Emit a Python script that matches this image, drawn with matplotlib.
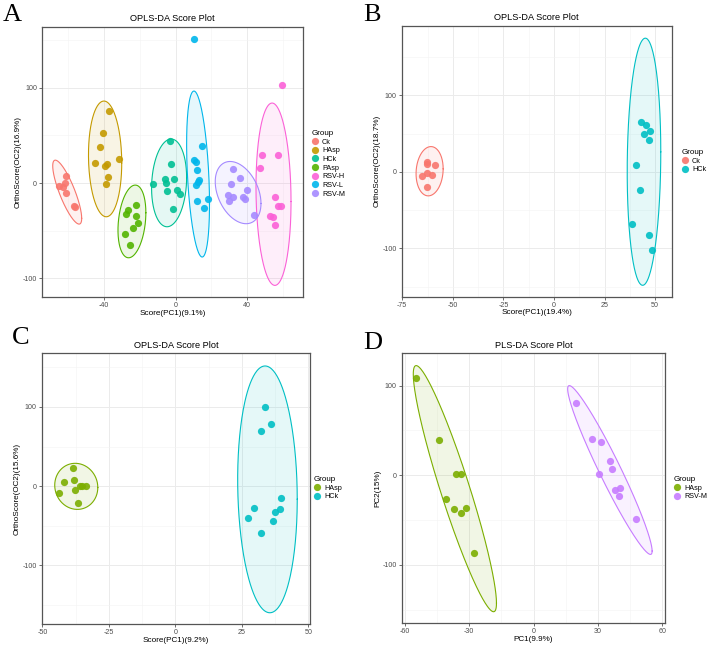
import numpy as np
import matplotlib
matplotlib.use("Agg")
import matplotlib.pyplot as plt
from matplotlib.lines import Line2D

plt.rcParams['font.family'] = ['Liberation Sans', 'DejaVu Sans']
plt.rcParams['axes.unicode_minus'] = False

# ---------------- data ----------------
# Panel A: OPLS-DA, 7 groups
A_groups = ["Ck", "HAsp", "HCk", "PAsp", "RSV-H", "RSV-L", "RSV-M"]
A_colors = ["#F8766D", "#C49A00", "#00C094", "#53B400", "#FB61D7", "#00B6EB", "#A58AFF"]
A_x = {
    "Ck":    [-61.0, -65.3, -61.6, -62.9, -61.0, -56.9, -56.4],
    "HAsp":  [-37.0, -40.6, -42.2, -45.2, -38.5, -39.3, -31.4, -37.6, -38.7],
    "HCk":   [-3.2, -2.8, -12.7, -6.1, -5.4, -1.1, -5.0, 0.6, 2.6, -1.5],
    "PAsp":  [-22.3, -26.6, -27.9, -22.0, -21.0, -23.8, -28.1, -25.7],
    "RSV-H": [59.7, 48.2, 57.5, 47.3, 55.4, 57.5, 59.0, 53.0, 54.3, 55.8],
    "RSV-L": [10.6, 14.9, 10.4, 11.2, 12.1, 13.0, 12.3, 11.5, 11.9, 18.4, 16.2],
    "RSV-M": [32.4, 36.1, 30.9, 39.8, 29.2, 32.4, 30.0, 37.6, 39.1, 44.1],
}
A_y = {
    "Ck":    [7.7, -2.8, -0.4, -4.2, -10.2, -24.5, -25.2],
    "HAsp":  [76.0, 52.5, 37.5, 20.7, 20.3, 18.2, 24.9, 6.7, -1.4],
    "HCk":   [43.8, 20.3, -0.7, 4.2, 0.4, 4.2, -8.8, -7.4, -11.2, -27.3],
    "PAsp":  [-23.5, -28.0, -32.2, -35.0, -42.4, -47.3, -53.6, -64.8],
    "RSV-H": [103.3, 29.1, 29.8, 15.8, -14.4, -24.2, -24.2, -34.7, -35.4, -43.8],
    "RSV-L": [151.7, 38.9, 24.5, 22.1, 13.7, 3.2, 1.4, -2.5, -18.9, -16.5, -26.3],
    "RSV-M": [14.4, 5.6, -1.4, -7.4, -12.3, -15.1, -18.6, -14.7, -16.5, -33.3],
}
# ellipse: centre x, centre y, half width, half height, correlation
A_ell = {
    "Ck":    (-60.6, -9.5, 8.1, 33.6, -0.82),
    "HAsp":  (-39.4, 25.4, 9.3, 60.8, -0.07),
    "HCk":   (-3.6, 0.2, 9.8, 46.1, 0.12),
    "PAsp":  (-24.4, -40.3, 7.8, 38.2, 0.24),
    "RSV-H": (54.8, -11.7, 9.8, 95.8, -0.08),
    "RSV-L": (12.6, 9.5, 6.4, 87.2, -0.36),
    "RSV-M": (35.0, -10.0, 12.8, 32.7, -0.35),
}

# Panel B: Ck vs HCk
B_groups = ["Ck", "HCk"]
B_colors = ["#F8766D", "#00BFC4"]
B_x = {"Ck": [-62.8, -62.9, -58.7, -65.4, -62.6, -60.3, -62.8],
       "HCk": [43.0, 45.3, 47.4, 44.6, 47.1, 40.5, 42.3, 38.6, 47.2, 48.7]}
B_y = {"Ck": [13.5, 10.0, 8.7, -5.2, -1.7, -3.5, -19.6],
       "HCk": [64.9, 61.0, 53.6, 49.7, 41.8, 9.2, -23.1, -68.4, -82.4, -102.4]}
B_ell = {"Ck": (-61.5, 0.9, 6.7, 32.2, 0.1),
         "HCk": (44.5, 13.3, 8.3, 161.4, 0.08)}

# Panel C: HAsp vs HCk
C_groups = ["HAsp", "HCk"]
C_colors = ["#7CAE00", "#00BFC4"]
C_x = {"HAsp": [-38.7, -38.1, -42.1, -43.9, -35.8, -35.1, -33.8, -37.7, -36.5],
       "HCk": [33.5, 35.8, 32.1, 39.7, 29.4, 39.3, 37.3, 27.1, 36.6, 32.1]}
C_y = {"HAsp": [23.4, 7.8, 4.8, -8.2, 0.6, 0.2, 0.6, -4.8, -21.7],
       "HCk": [99.6, 78.5, 69.3, -15.4, -28.0, -28.4, -32.2, -39.8, -43.6, -59.2]}
C_ell = {"HAsp": (-37.3, -0.2, 8.1, 29.1, -0.05),
         "HCk": (34.6, -4.0, 11.2, 155.8, -0.08)}

# Panel D: PLS-DA, HAsp vs RSV-M
D_groups = ["HAsp", "RSV-M"]
D_colors = ["#7CAE00", "#C77CFF"]
D_x = {"HAsp": [-54.9, -44.3, -36.4, -34.0, -40.7, -37.3, -34.0, -31.7, -27.8],
       "RSV-M": [19.7, 27.2, 31.6, 35.8, 36.7, 30.6, 38.1, 40.4, 39.8, 47.7]}
D_y = {"HAsp": [108.2, 39.8, 1.1, 1.1, -26.0, -37.9, -42.4, -36.8, -86.2],
       "RSV-M": [81.0, 40.1, 36.8, 16.4, 6.7, 1.5, -16.0, -13.8, -23.4, -49.1]}
D_ell = {"HAsp": (-36.7, -14.9, 19.4, 137.2, -0.93),
         "RSV-M": (35.6, 5.9, 19.7, 94.1, -0.96)}

# ---------------- figure ----------------
W, H = 709, 645
fig = plt.figure(figsize=(W / 100, H / 100), dpi=100)


def px_axes(l, t, r, b):
    return fig.add_axes([l / W, 1 - b / H, (r - l) / W, (b - t) / H])


def ellipse_pts(cx, cy, rx, ry, rho):
    t = np.linspace(0, 2 * np.pi, 300)
    x = cx + rx * np.cos(t)
    y = cy + ry * (rho * np.cos(t) + np.sqrt(1 - rho ** 2) * np.sin(t))
    return x, y


def draw_panel(ax, groups, colors, xs, ys, ells, xlim, ylim, xticks, yticks,
               title, xlabel, ylabel, legend_xy):
    ax.set_facecolor("white")
    for g, c in zip(groups, colors):
        ex, ey = ellipse_pts(*ells[g])
        ax.fill(ex, ey, color=c, alpha=0.1, lw=0, zorder=2)
        ax.plot(ex, ey, color=c, lw=0.8, zorder=3)
    for g, c in zip(groups, colors):
        ax.scatter(xs[g], ys[g], s=27, color=c, alpha=0.9, lw=0, zorder=4)
    ax.set_xticks(xticks)
    ax.set_yticks(yticks)
    ax.set_xticklabels([str(v) for v in xticks])
    ax.set_yticklabels([str(v) for v in yticks])
    xm = [(a + b) / 2 for a, b in zip(xticks[:-1], xticks[1:])]
    dx = xticks[1] - xticks[0]
    xm = [xticks[0] - dx / 2] + xm + [xticks[-1] + dx / 2]
    ym = [(a + b) / 2 for a, b in zip(yticks[:-1], yticks[1:])]
    dy = yticks[1] - yticks[0]
    ym = [yticks[0] - dy / 2] + ym + [yticks[-1] + dy / 2]
    ax.set_xticks(xm, minor=True)
    ax.set_yticks(ym, minor=True)
    ax.set_xlim(*xlim)
    ax.set_ylim(*ylim)
    ax.grid(True, which="major", color="#EBEBEB", lw=0.7, zorder=0)
    ax.grid(True, which="minor", color="#F3F3F3", lw=0.4, zorder=0)
    ax.set_axisbelow(True)
    ax.tick_params(which="major", length=2, width=0.5, color="#333333",
                   labelsize=5.1, labelcolor="#4D4D4D", pad=1.5)
    ax.tick_params(which="minor", length=0)
    for sp in ax.spines.values():
        sp.set_color("#555555")
        sp.set_linewidth(0.9)
    ax.set_title(title, fontsize=6.6, pad=4)
    ax.set_xlabel(xlabel, fontsize=5.9, labelpad=0.5)
    ax.set_ylabel(ylabel, fontsize=5.9, labelpad=1)
    handles = [Line2D([], [], marker="o", ls="", color=c, ms=5.2, alpha=0.9, mec="none")
               for c in colors]
    ax.legend(handles, groups, title="Group", loc="upper left",
              bbox_to_anchor=(legend_xy[0] / W, 1 - legend_xy[1] / H),
              bbox_transform=fig.transFigure, frameon=False,
              fontsize=5.2, title_fontsize=5.8, borderpad=0, borderaxespad=0,
              handlelength=0.8, handletextpad=0.6, labelspacing=0.22,
              alignment="left")
    return ax


axA = px_axes(42, 27, 303, 297)
draw_panel(axA, A_groups, A_colors, A_x, A_y, A_ell, (-74.7, 71.3), (-119.7, 164),
           [-40, 0, 40], [-100, 0, 100], "OPLS-DA Score Plot",
           "Score(PC1)(9.1%)", "OrthoScore(OC2)(16.9%)", (312, 130))

axB = px_axes(401.7, 26, 671.7, 296.7)
draw_panel(axB, B_groups, B_colors, B_x, B_y, B_ell, (-75.3, 58.2), (-163, 190.6),
           [-75, -50, -25, 0, 25, 50], [-100, 0, 100], "OPLS-DA Score Plot",
           "Score(PC1)(19.4%)", "OrthoScore(OC2)(18.7%)", (682, 149))

axC = px_axes(41.7, 353.3, 310, 624)
draw_panel(axC, C_groups, C_colors, C_x, C_y, C_ell, (-50.3, 50.6), (-174, 167.8),
           [-50, -25, 0, 25, 50], [-100, 0, 100], "OPLS-DA Score Plot",
           "Score(PC1)(9.2%)", "OrthoScore(OC2)(15.6%)", (314, 476))

axD = px_axes(401.7, 353.3, 665, 623.3)
draw_panel(axD, D_groups, D_colors, D_x, D_y, D_ell, (-61.5, 61.3), (-165, 136),
           [-60, -30, 0, 30, 60], [-100, 0, 100], "PLS-DA Score Plot",
           "PC1(9.9%)", "PC2(15%)", (674, 476))

# panel letters
for lab, x, y in [("A", 3, 4), ("B", 363, 4), ("C", 12, 327), ("D", 363, 332)]:
    fig.text(x / W, 1 - y / H, lab, fontsize=19, family="Liberation Serif",
             ha="left", va="top")

fig.savefig("out.png", dpi=100, facecolor="white")
